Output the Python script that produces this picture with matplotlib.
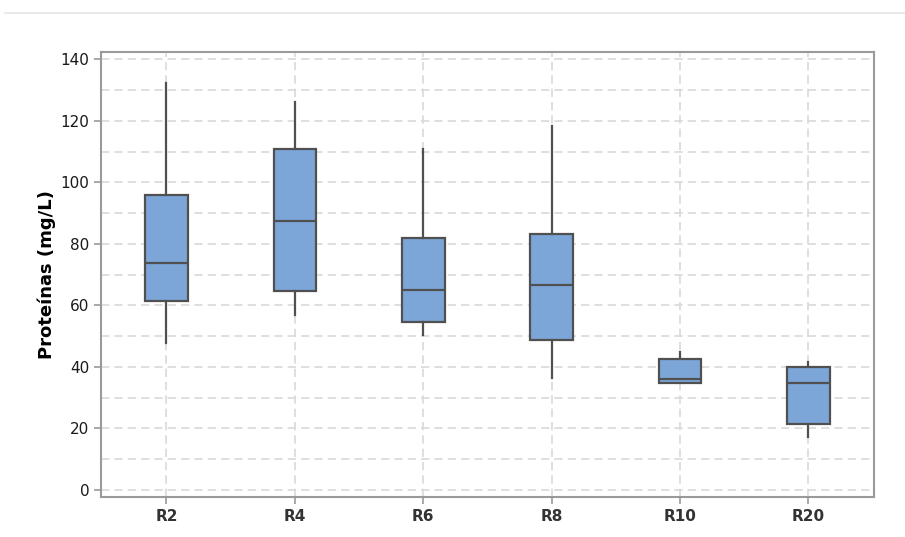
import matplotlib.pyplot as plt
from matplotlib.lines import Line2D
from matplotlib.ticker import MultipleLocator

# data
grupos = ["R2", "R4", "R6", "R8", "R10", "R20"]
whisk_lo = [47.7, 56.9, 50.4, 36.3, 34.9, 17.1]
q1 = [61.4, 64.7, 54.6, 48.8, 34.9, 21.4]
mediana = [73.8, 87.4, 65.0, 66.6, 36.0, 34.9]
q3 = [95.8, 110.8, 81.9, 83.1, 42.6, 40.1]
whisk_hi = [132.2, 126.0, 110.8, 118.3, 44.9, 41.5]

stats = []
for i, g in enumerate(grupos):
    stats.append(dict(label=g, whislo=whisk_lo[i], q1=q1[i], med=mediana[i],
                      q3=q3[i], whishi=whisk_hi[i], fliers=[]))

plt.rcParams['font.family'] = ['DejaVu Sans']

fig = plt.figure(figsize=(9.05, 5.37), dpi=100)
ax = fig.add_axes([0.1116, 0.0739, 0.8541, 0.8293])

edge = '#505050'
ax.bxp(stats, positions=range(1, len(grupos) + 1), widths=0.333,
       showcaps=False, patch_artist=True,
       boxprops=dict(facecolor='#7ca6d8', edgecolor=edge, linewidth=1.6),
       medianprops=dict(color=edge, linewidth=1.6),
       whiskerprops=dict(color=edge, linewidth=1.6), zorder=3)

ax.set_xlim(0.49, 6.51)
ax.set_ylim(-2.4, 142.4)
ax.yaxis.set_major_locator(MultipleLocator(20))
ax.yaxis.set_minor_locator(MultipleLocator(10))
ax.set_axisbelow(True)
grid_kw = dict(color='#d9d9d9', linestyle=(0, (5, 3)), linewidth=1.2)
ax.grid(True, which='both', axis='y', **grid_kw)
ax.grid(True, which='major', axis='x', **grid_kw)

for s in ax.spines.values():
    s.set_color('#9a9a9a')
    s.set_linewidth(1.5)
ax.tick_params(axis='both', which='major', colors='#9a9a9a', labelcolor='#1a1a1a',
               labelsize=11, length=5, width=1.2)
ax.tick_params(axis='y', which='minor', length=0)
for lab in ax.get_xticklabels():
    lab.set_fontweight('bold')
    lab.set_color('#333333')

ax.set_ylabel("Proteínas (mg/L)", fontsize=13, fontweight='bold', labelpad=3)

# faint page line at the top
fig.add_artist(Line2D([0.005, 1.0], [1 - 13 / 537, 1 - 13 / 537],
                      transform=fig.transFigure, color='#e6e6e6', linewidth=1.2))

fig.savefig("out.png", dpi=100)
